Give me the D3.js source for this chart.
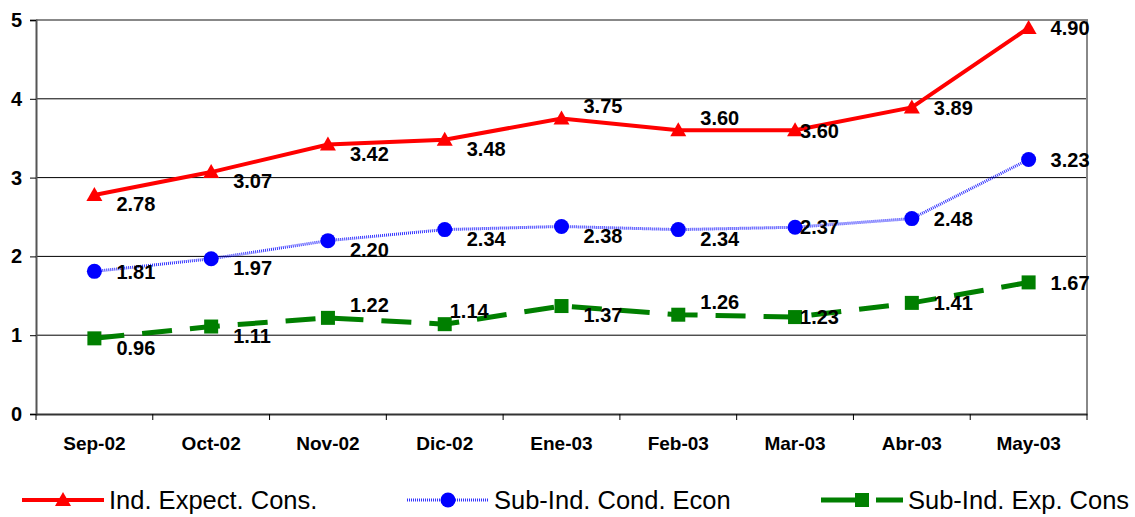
<!DOCTYPE html>
<html>
<head>
<meta charset="utf-8">
<script src="https://cdn.jsdelivr.net/npm/d3@7"></script>
<style>
  body { margin: 0; background: #fff; }
  text { font-family: "Liberation Sans", Arial, sans-serif; }
</style>
</head>
<body>
<script>
// data
var months = ["Sep-02", "Oct-02", "Nov-02", "Dic-02", "Ene-03", "Feb-03", "Mar-03", "Abr-03", "May-03"];
var expectCons = [2.78, 3.07, 3.42, 3.48, 3.75, 3.60, 3.60, 3.89, 4.90];
var condEcon = [1.81, 1.97, 2.20, 2.34, 2.38, 2.34, 2.37, 2.48, 3.23];
var expCons = [0.96, 1.11, 1.22, 1.14, 1.37, 1.26, 1.23, 1.41, 1.67];
var yTicks = [0, 1, 2, 3, 4, 5];

// label placement (b = below, a = above, r = right; uppercase = close to marker)
var expectLabelPos = ["b", "b", "b", "b", "a", "a", "R", "r", "r"];
var condLabelPos = ["r", "b", "b", "b", "b", "b", "R", "r", "r"];
var expLabelPos = ["b", "b", "a", "A", "b", "a", "R", "r", "r"];

// set the dimensions and margins of the graph
var margin = {top: 20, right: 48, bottom: 103, left: 36},
    width = 1135 - margin.left - margin.right,
    height = 517 - margin.top - margin.bottom;

var svg = d3.select("body").append("svg")
    .attr("width", 1135)
    .attr("height", 517)
  .append("g")
    .attr("transform", "translate(" + margin.left + "," + margin.top + ")");

var x = d3.scaleBand().domain(months).range([0, width]);
var y = d3.scaleLinear().domain([0, 5]).range([height, 0]);
var cx = function(i) { return x(months[i]) + x.bandwidth() / 2; };

// gridlines
svg.selectAll(".grid")
    .data(yTicks.filter(function(d) { return d > 0 && d < 5; }))
  .enter().append("line")
    .attr("x1", 0).attr("x2", width)
    .attr("y1", function(d) { return y(d); })
    .attr("y2", function(d) { return y(d); })
    .attr("stroke", "#000").attr("stroke-width", 1);

// plot border top / right
svg.append("path")
    .attr("d", "M0," + y(5) + "H" + width + "V" + height)
    .attr("fill", "none").attr("stroke", "#888").attr("stroke-width", 2);

// Y axis
var yAxis = svg.append("g")
    .call(d3.axisLeft(y).tickValues(yTicks).tickSize(6).tickPadding(8).tickFormat(d3.format("d")));
yAxis.select(".domain").attr("stroke", "#555").attr("stroke-width", 2);
yAxis.selectAll(".tick line").attr("stroke", "#000");
yAxis.selectAll("text").attr("font-size", 20).attr("font-weight", "bold")
    .attr("font-family", "Liberation Sans, Arial, sans-serif").attr("fill", "#000");

// X axis
var xAxis = svg.append("g")
    .attr("transform", "translate(0," + height + ")")
    .call(d3.axisBottom(x).tickSize(0).tickPadding(23));
xAxis.select(".domain").attr("stroke", "#333").attr("stroke-width", 2);
xAxis.selectAll("text").attr("font-size", 19).attr("font-weight", "bold")
    .attr("font-family", "Liberation Sans, Arial, sans-serif").attr("fill", "#000");
xAxis.selectAll(".sep")
    .data(d3.range(months.length + 1))
  .enter().append("line")
    .attr("x1", function(i) { return x.step() * i; })
    .attr("x2", function(i) { return x.step() * i; })
    .attr("y1", 0).attr("y2", 6)
    .attr("stroke", "#000");

var line = d3.line()
    .x(function(d, i) { return cx(i); })
    .y(function(d) { return y(d); });

var series = [
  {values: expectCons, color: "#ff0000", width: 4, dash: null, marker: "triangle", pos: expectLabelPos, name: "Ind. Expect. Cons."},
  {values: condEcon, color: "#0000ff", width: 3, dash: "1,1", marker: "circle", pos: condLabelPos, name: "Sub-Ind. Cond. Econ"},
  {values: expCons, color: "#007f00", width: 5, dash: "30,18", marker: "square", pos: expLabelPos, name: "Sub-Ind. Exp. Cons"}
];

function drawMarker(g, type, color) {
  if (type === "triangle") {
    g.append("path").attr("d", "M0,-8L8,6L-8,6Z").attr("fill", color);
  } else if (type === "circle") {
    g.append("circle").attr("r", 7.5).attr("fill", color);
  } else {
    g.append("rect").attr("x", -7).attr("y", -7).attr("width", 14).attr("height", 14).attr("fill", color);
  }
}

series.forEach(function(s) {
  var p = svg.append("path")
      .datum(s.values)
      .attr("d", line)
      .attr("fill", "none")
      .attr("stroke", s.color)
      .attr("stroke-width", s.width)
      .attr("opacity", s.marker === "circle" ? 0.8 : 1);
  if (s.dash) p.attr("stroke-dasharray", s.dash);

  s.values.forEach(function(v, i) {
    var g = svg.append("g").attr("transform", "translate(" + cx(i) + "," + y(v) + ")");
    drawMarker(g, s.marker, s.color);
  });

  svg.selectAll(null)
      .data(s.values)
    .enter().append("text")
      .attr("x", function(d, i) {
        var code = s.pos[i];
        return cx(i) + (code === code.toUpperCase() ? 5 : 22);
      })
      .attr("y", function(d, i) {
        var code = s.pos[i].toLowerCase();
        var off = code === "b" ? 9 : code === "a" ? -13 : 0;
        return y(d) + off;
      })
      .attr("dy", "0.36em")
      .attr("font-size", 20)
      .attr("font-weight", "bold")
      .attr("fill", "#000")
      .text(function(d) { return d3.format(".2f")(d); });
});

// legend
var legendX = [22, 407, 821];
var legend = d3.select("svg").append("g").attr("transform", "translate(0,500)");
series.forEach(function(s, i) {
  var g = legend.append("g").attr("transform", "translate(" + legendX[i] + ",0)");
  var l = g.append("line")
      .attr("x1", 0).attr("x2", 82).attr("y1", 0).attr("y2", 0)
      .attr("stroke", s.color).attr("stroke-width", s.width)
      .attr("opacity", s.marker === "circle" ? 0.8 : 1);
  if (s.marker === "square") l.attr("stroke-dasharray", "48,7,100");
  if (s.dash && s.marker === "circle") l.attr("stroke-dasharray", s.dash);
  var m = g.append("g").attr("transform", "translate(41,0)");
  drawMarker(m, s.marker, s.color);
  g.append("text")
      .attr("x", 87).attr("y", 0).attr("dy", "0.36em")
      .attr("font-size", 25.5)
      .attr("fill", "#000")
      .text(s.name);
});
</script>
</body>
</html>
